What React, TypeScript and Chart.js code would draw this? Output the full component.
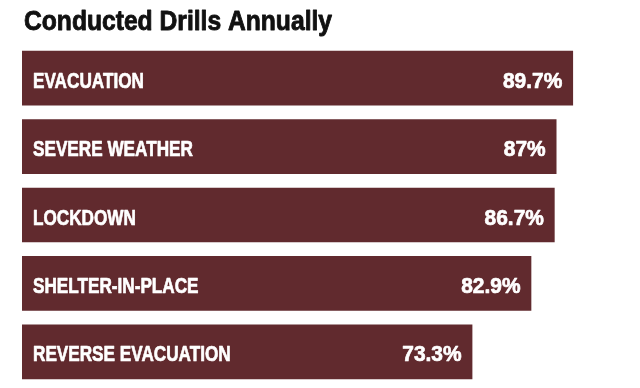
import React, { useEffect, useRef } from "react";
import { Chart, registerables } from "chart.js";

Chart.register(...registerables);

const categories = ["EVACUATION", "SEVERE WEATHER", "LOCKDOWN", "SHELTER-IN-PLACE", "REVERSE EVACUATION"];
const values = [89.7, 87, 86.7, 82.9, 73.3];
const valueLabels = ["89.7%", "87%", "86.7%", "82.9%", "73.3%"];
const titleText = "Conducted Drills Annually";

const BAR_COLOR = "#612a2e";
const FONT = "'Liberation Sans', Arial, sans-serif";

function drawScaled(ctx: any, text: string, x: number, y: number, sx: number, align: string, stroke: number) {
  ctx.save();
  ctx.translate(x, y);
  ctx.scale(sx, 1);
  ctx.textAlign = align;
  ctx.fillText(text, 0, 0);
  if (stroke > 0) {
    ctx.lineWidth = stroke;
    ctx.lineJoin = "round";
    ctx.strokeText(text, 0, 0);
  }
  ctx.restore();
}

const labelPlugin = {
  id: "barLabels",
  afterDraw(chart: any) {
    const { ctx, chartArea } = chart;
    const meta = chart.getDatasetMeta(0);
    ctx.save();
    ctx.textBaseline = "alphabetic";
    // title
    ctx.fillStyle = "#111111";
    ctx.strokeStyle = "#111111";
    ctx.font = `bold 28px ${FONT}`;
    drawScaled(ctx, titleText, chartArea.left + 2, 30, 0.88, "left", 0.9);
    // bar labels
    ctx.fillStyle = "#ffffff";
    ctx.strokeStyle = "#ffffff";
    ctx.font = `bold 22px ${FONT}`;
    meta.data.forEach((bar: any, i: number) => {
      const y = bar.y + 9.5;
      drawScaled(ctx, categories[i], chartArea.left + 11, y, 0.78, "left", 0.7);
      drawScaled(ctx, valueLabels[i], bar.x - 10.5, y, 0.95, "right", 0.7);
    });
    ctx.restore();
  },
};

export default function App() {
  const ref = useRef<HTMLCanvasElement | null>(null);
  useEffect(() => {
    if (!ref.current) return;
    const chart = new Chart(ref.current, {
      type: "bar",
      data: {
        labels: categories,
        datasets: [
          {
            data: values,
            backgroundColor: BAR_COLOR,
            borderWidth: 0,
            barThickness: 54,
          },
        ],
      },
      options: {
        indexAxis: "y",
        animation: false,
        responsive: true,
        maintainAspectRatio: false,
        layout: { padding: { left: 22, right: 4, top: 44, bottom: 2 } },
        scales: {
          x: { display: false, min: 0, max: 100 },
          y: { display: false },
        },
        plugins: {
          legend: { display: false },
          tooltip: { enabled: false },
          title: { display: false },
        },
      },
      plugins: [labelPlugin],
    });
    return () => chart.destroy();
  }, []);
  return (
    <div style={{ position: "absolute", left: 0, top: 0, width: 640, height: 388, background: "#fff" }}>
      <canvas ref={ref} />
    </div>
  );
}
